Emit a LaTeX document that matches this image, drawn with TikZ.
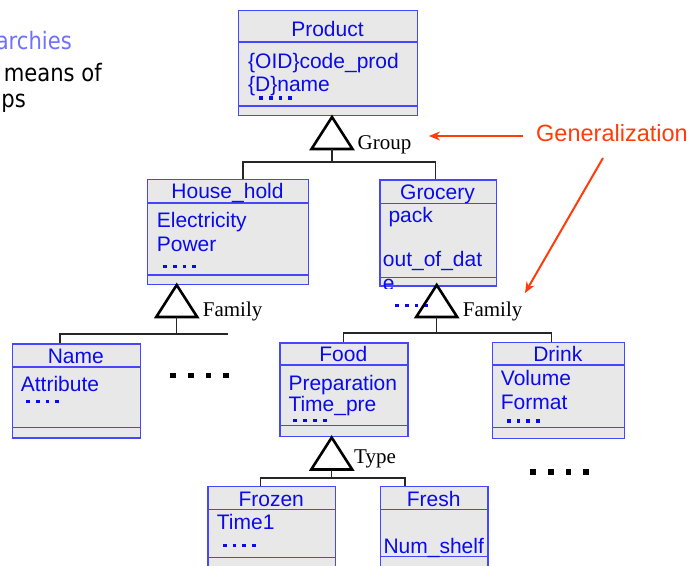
\documentclass[tikz,border=0pt]{standalone}
\usepackage{fontspec}
\setmainfont{Liberation Sans}
\newfontfamily\timesf{Liberation Serif}
\newfontfamily\tahf[FakeStretch=0.88]{DejaVu Sans}
\usetikzlibrary{arrows.meta}
\definecolor{boxblue}{RGB}{70,70,255}
\definecolor{txtblue}{RGB}{10,10,235}
\definecolor{boxgray}{RGB}{232,232,232}
\definecolor{lav}{RGB}{112,112,255}
\definecolor{genred}{RGB}{255,60,10}
\newcommand\umlbox[7]{%
  \node[ubox, minimum width={#4-#2}, minimum height={#5-#3}] (#1) at (#2,#3) {};
  \draw[uline] (#2,#6) -- (#4,#6);
  \draw[uline] (#2,#7) -- (#4,#7);
}
\newcommand\bluedots[2]{%
  \foreach \k in {0,1,2,3} {\fill[txtblue] ({#1+\k*9.8},#2) rectangle ++(3.8,3.8);}
}
\newcommand\blackdots[2]{%
  \foreach \k in {0,1,2,3} {\fill[black] ({#1+\k*17.7-2.8},{#2-2.8}) rectangle ++(5.6,5.6);}
}
\begin{document}
\begin{tikzpicture}[x=1pt,y=-1pt,
  ubox/.style={draw=boxblue, fill=boxgray, line width=1.3pt, inner sep=0pt, anchor=north west},
  uline/.style={draw=boxblue, line width=1.3pt},
  utext/.style={text=txtblue, font=\fontsize{21}{24}\selectfont, inner sep=0pt},
  uhead/.style={utext, anchor=base},
  uattr/.style={utext, anchor=base west},
  conn/.style={draw=black!85, line width=1.3pt},
  tri/.style={draw=black, line width=2.6pt, line join=miter},
  lab/.style={font=\timesf\fontsize{21}{24}\selectfont, inner sep=0pt, anchor=base west},
  side/.style={font=\tahf\fontsize{24}{28}\selectfont, inner sep=0pt, anchor=base east},
  gtri/.pic={\draw[tri] (0,0) -- (-20.5,32) -- (20.5,32) -- cycle; \coordinate (-base) at (0,32);}
]
\useasboundingbox (0,0) rectangle (693,565);
\fill[white] (0,0) rectangle (693,565);

% side text
\node[side, text=lav] (s1) at (72,49.5) {archies};
\node[side] (s2) at (102,81.5) {means of};
\node[side] (s3) at (26,107.5) {ps};

% boxes
\umlbox{Product}{238}{10}{417}{115}{42}{106}
\node[uhead] (tProduct) at (327.5,36) {Product};
\node[uattr] (aP1) at (248,68) {\{OID\}code\_prod};
\node[uattr] (aP2) at (248,91) {\{D\}name};
\bluedots{259}{96}

\umlbox{House}{147}{179}{308}{284}{203}{275}
\node[uhead] (tHouse) at (227.5,198) {House\_hold};
\node[uattr] (aH1) at (156.7,227.3) {Electricity};
\node[uattr] (aH2) at (156.7,251) {Power};
\bluedots{163}{264.5}

\umlbox{Grocery}{379.3}{179.3}{495.7}{285.3}{203.3}{277.7}
\node[uhead] (tGrocery) at (437.5,199.3) {Grocery};
\node[uattr] (aG1) at (388.3,222) {pack};
\node[uattr] (aG2) at (382.7,266.7) {out\_of\_dat};
\begin{scope}
\clip (370,270) rectangle (420,288);
\node[uattr] (aG3) at (382.7,290.7) {e};
\end{scope}
\bluedots{395}{303.5}

\umlbox{Name}{11.7}{343.3}{140}{437.3}{367}{427.7}
\node[uhead] (tName) at (75.8,363.3) {Name};
\node[uattr] (aN1) at (20.7,391.7) {Attribute};
\bluedots{26}{399.5}

\umlbox{Food}{279.3}{342.3}{407.3}{436}{365}{425.7}
\node[uhead] (tFood) at (343.3,361.7) {Food};
\node[uattr] (aF1) at (288.3,390) {Preparation};
\node[uattr] (aF2) at (288.3,411.7) {Time\_pre};
\bluedots{293.3}{418.5}

\umlbox{Drink}{491.7}{341.7}{624}{437.7}{365}{427.3}
\node[uhead] (tDrink) at (557.8,361.7) {Drink};
\node[uattr] (aD1) at (500.7,385) {Volume};
\node[uattr] (aD2) at (500.7,409.3) {Format};
\bluedots{506.7}{419}

\umlbox{Frozen}{207.3}{485.7}{335}{580}{509.3}{557.3}
\node[uhead] (tFrozen) at (271.2,506) {Frozen};
\node[uattr] (aZ1) at (216.7,529.3) {Time1};
\bluedots{222.7}{543.5}

\umlbox{Fresh}{380}{485.7}{487.3}{580}{509.3}{556.7}
\node[uhead] (tFresh) at (433.7,506) {Fresh};
\node[uattr] (aR1) at (383.3,553.3) {Num\_shelf};

% generalization triangles and labels
\pic (tP) at (332,117) {gtri};
\pic (tH) at (176.7,285) {gtri};
\pic (tG) at (436.7,285) {gtri};
\pic (tT) at (331.7,437.5) {gtri};
\node[lab] (lGroup) at (357.5,149) {Group};
\node[lab] (lFam1) at (202.7,316.7) {Family};
\node[lab] (lFam2) at (462.7,316.7) {Family};
\node[lab] (lType) at (354,463.3) {Type};

% connectors
\coordinate (busP) at (332,162);
\coordinate (hhTop) at (243,179);
\coordinate (grTop) at (435.7,179.3);
\draw[conn] (tP-base) -- (busP);
\draw[conn] (hhTop) |- (busP) -| (grTop);

\coordinate (busH) at (176.7,334);
\coordinate (nmTop) at (60,343.3);
\coordinate (busHend) at (228,334);
\draw[conn] (tH-base) -- (busH);
\draw[conn] (nmTop) |- (busHend);

\coordinate (busG) at (436.7,333);
\coordinate (fdTop) at (343.3,342.3);
\coordinate (dkTop) at (551.7,341.7);
\draw[conn] (tG-base) -- (busG);
\draw[conn] (fdTop) |- (busG) -| (dkTop);

\coordinate (busT) at (331.7,478);
\coordinate (frTop) at (260.7,485.7);
\coordinate (fsTop) at (405,485.7);
\draw[conn] (tT-base) -- (busT);
\draw[conn] (frTop) |- (busT) -| (fsTop);

% more dots
\blackdots{173}{375.5}
\blackdots{533}{471.7}

% generalization annotation
\node[font=\fontsize{23.5}{28}\selectfont, text=genred, inner sep=0pt, anchor=base west] (gen) at (536,141.7) {Generalization};
\coordinate (g1s) at (523,136);
\coordinate (g1e) at (429,136);
\coordinate (g2s) at (603,158);
\coordinate (g2e) at (525,293);
\draw[genred, line width=2pt, -{Stealth[length=11pt,width=9pt]}] (g1s) -- (g1e);
\draw[genred, line width=2pt, -{Stealth[length=11pt,width=9pt]}] (g2s) -- (g2e);
\end{tikzpicture}
\end{document}
